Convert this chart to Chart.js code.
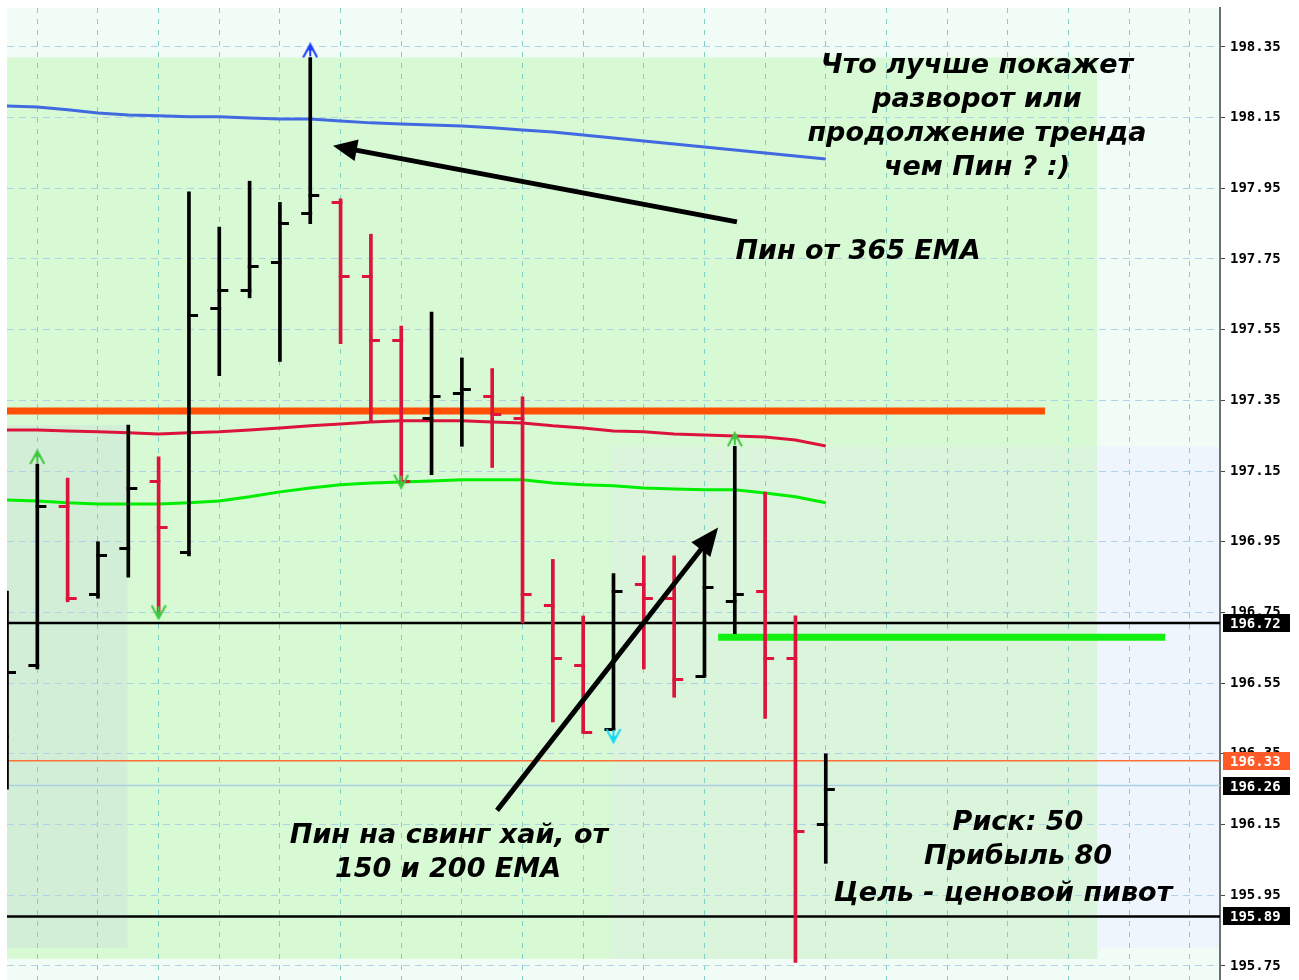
<!DOCTYPE html>
<html>
<head>
<meta charset="utf-8">
<script src="https://cdn.jsdelivr.net/npm/chart.js@4.4.1/dist/chart.umd.min.js"></script>
<style>
  body { margin: 0; background: #fff; }
</style>
</head>
<body>
<canvas id="chart" width="1299" height="980"></canvas>
<script>
// bar index (-1 is the half-hidden bar at the left edge)
const bars   = [-1, 0, 1, 2, 3, 4, 5, 6, 7, 8, 9, 10, 11, 12, 13, 14, 15, 16, 17, 18, 19, 20, 21, 22, 23, 24, 25, 26];
const opens  = [196.40, 196.60, 197.05, 196.80, 196.93, 197.12, 196.92, 197.61, 197.66, 197.74, 197.88, 197.91, 197.70, 197.52, 197.30, 197.37, 197.36, 197.30, 196.77, 196.60, 196.42, 196.83, 196.79, 196.57, 196.78, 196.81, 196.62, 196.15];
const highs  = [196.81, 197.17, 197.13, 196.95, 197.28, 197.19, 197.94, 197.84, 197.97, 197.91, 198.32, 197.92, 197.82, 197.56, 197.60, 197.47, 197.44, 197.36, 196.90, 196.74, 196.86, 196.91, 196.91, 196.96, 197.22, 197.09, 196.74, 196.35];
const lows   = [196.25, 196.59, 196.78, 196.79, 196.85, 196.75, 196.91, 197.42, 197.64, 197.46, 197.85, 197.51, 197.29, 197.11, 197.14, 197.22, 197.16, 196.72, 196.44, 196.41, 196.42, 196.59, 196.51, 196.57, 196.69, 196.45, 195.76, 196.04];
const closes = [196.58, 197.05, 196.79, 196.91, 197.10, 196.99, 197.59, 197.66, 197.73, 197.85, 197.93, 197.70, 197.52, 197.12, 197.36, 197.38, 197.31, 196.80, 196.62, 196.41, 196.81, 196.79, 196.56, 196.82, 196.80, 196.62, 196.13, 196.25];

const ema365 = [198.183, 198.180, 198.172, 198.163, 198.157, 198.155, 198.152, 198.152, 198.149, 198.146, 198.146, 198.140, 198.135, 198.132, 198.129, 198.126, 198.121, 198.115, 198.109, 198.101, 198.092, 198.084, 198.075, 198.067, 198.058, 198.050, 198.041, 198.033];
const ema200 = [197.266, 197.266, 197.263, 197.261, 197.258, 197.255, 197.258, 197.261, 197.266, 197.272, 197.278, 197.283, 197.289, 197.292, 197.292, 197.292, 197.289, 197.286, 197.278, 197.272, 197.263, 197.261, 197.255, 197.252, 197.249, 197.246, 197.238, 197.221];
const ema150 = [197.068, 197.065, 197.060, 197.057, 197.057, 197.057, 197.060, 197.065, 197.077, 197.091, 197.102, 197.111, 197.116, 197.119, 197.122, 197.125, 197.125, 197.125, 197.116, 197.111, 197.108, 197.102, 197.099, 197.097, 197.097, 197.088, 197.077, 197.060];

// fractal markers
const fractalUpBars    = [0, 9, 23];
const fractalUpPrices  = [197.19, 198.34, 197.24];
const fractalDnBars    = [4, 12, 19];
const fractalDnPrices  = [196.75, 197.12, 196.40];

// price axis ticks
const priceTicks = [195.75, 195.95, 196.15, 196.35, 196.55, 196.75, 196.95, 197.15, 197.35, 197.55, 197.75, 197.95, 198.15, 198.35];

// horizontal levels
const resistLevel = 197.32;
const targetLevel = 196.68;
const hLines      = [196.72, 195.89];
const bidLevel    = 196.33;
const askLevel    = 196.26;

const UP = '#000000', DOWN = '#dc143c';
const isUp = i => closes[i] >= opens[i];

function tickImage(color, left) {
  const c = document.createElement('canvas');
  c.width = 20; c.height = 3;
  const g = c.getContext('2d');
  g.fillStyle = color;
  if (left) g.fillRect(1, 0, 10.5, 3); else g.fillRect(8.5, 0, 10.5, 3);
  return c;
}
const openBlack = tickImage(UP, true), openRed = tickImage(DOWN, true);
const closeBlack = tickImage(UP, false), closeRed = tickImage(DOWN, false);

function fractalImage(color, up) {
  const c = document.createElement('canvas');
  c.width = 16; c.height = 16;
  const g = c.getContext('2d');
  g.strokeStyle = color; g.fillStyle = color; g.lineWidth = 2;
  if (!up) { g.translate(0, 16); g.scale(1, -1); }
  g.beginPath();
  g.moveTo(1, 15); g.lineTo(8, 2); g.lineTo(15, 15);
  g.stroke();
  g.beginPath();
  g.moveTo(8, 1); g.lineTo(11, 9); g.lineTo(8, 7); g.lineTo(5, 9); g.closePath();
  g.fill();
  g.beginPath(); g.moveTo(8, 2); g.lineTo(8, 14); g.stroke();
  return c;
}
const fracUpGreen = fractalImage('#3cc83c', true);
const fracUpBlue = fractalImage('#1a3cff', true);
const fracDnGreen = fractalImage('#3cc83c', false);
const fracDnCyan = fractalImage('#10d8f8', false);

const hseg = (x0, x1, v) => [{ x: x0, y: v }, { x: x1, y: v }];

const backgroundPlugin = {
  id: 'bg',
  beforeDraw(chart) {
    const { ctx, chartArea: a, scales: { x, y } } = chart;
    ctx.save();
    ctx.fillStyle = '#ffffff';
    ctx.fillRect(0, 0, chart.width, chart.height);
    ctx.fillStyle = '#f0fcf5';
    ctx.fillRect(a.left, a.top, a.right - a.left, a.bottom - a.top);
    const rect = (x0, x1, p0, p1, col) => {
      const l = x.getPixelForValue(x0), r = x.getPixelForValue(x1);
      const t = y.getPixelForValue(p1), b = y.getPixelForValue(p0);
      ctx.fillStyle = col;
      ctx.fillRect(l, t, r - l, b - t);
    };
    rect(-1, 34.95, 195.77, 198.32, '#d7f9d3');
    rect(-1, 2.97, 195.80, 197.28, '#d3eed7');
    rect(18.95, 34.95, 195.77, 197.22, '#dbf5dc');
    rect(34.95, 39, 195.80, 197.22, '#eef5fc');
    ctx.restore();
  }
};

const notesPlugin = {
  id: 'notes',
  afterDatasetsDraw(chart) {
    const { ctx, scales: { x, y } } = chart;
    ctx.save();
    const arrows = [
      { from: [23.07, 197.855], to: [9.75, 198.07], len: 24, half: 11 },
      { from: [15.16, 196.19], to: [22.45, 196.99], len: 28, half: 12 }
    ];
    ctx.strokeStyle = '#000'; ctx.fillStyle = '#000'; ctx.lineWidth = 5;
    arrows.forEach(a => {
      const x0 = x.getPixelForValue(a.from[0]), y0 = y.getPixelForValue(a.from[1]);
      const x1 = x.getPixelForValue(a.to[0]), y1 = y.getPixelForValue(a.to[1]);
      const ang = Math.atan2(y1 - y0, x1 - x0);
      const bx = x1 - a.len * Math.cos(ang), by = y1 - a.len * Math.sin(ang);
      ctx.beginPath(); ctx.moveTo(x0, y0); ctx.lineTo(bx + 2 * Math.cos(ang), by + 2 * Math.sin(ang)); ctx.stroke();
      ctx.beginPath();
      ctx.moveTo(x1, y1);
      ctx.lineTo(bx + a.half * Math.sin(ang), by - a.half * Math.cos(ang));
      ctx.lineTo(bx - a.half * Math.sin(ang), by + a.half * Math.cos(ang));
      ctx.closePath(); ctx.fill();
    });

    ctx.font = 'italic bold 27px "DejaVu Sans"';
    ctx.textAlign = 'center';
    ctx.textBaseline = 'middle';
    const texts = [
      ['Что лучше покажет', 977, 66],
      ['разворот или', 977, 100],
      ['продолжение тренда', 977, 134],
      ['чем Пин ? :)', 977, 168],
      ['Пин от 365 EMA', 858, 252],
      ['Пин на свинг хай, от', 449, 836],
      ['150 и 200 EMA', 448, 870],
      ['Риск: 50', 1018, 823],
      ['Прибыль 80', 1018, 857],
      ['Цель - ценовой пивот', 1003, 894]
    ];
    texts.forEach(t => ctx.fillText(t[0], t[1], t[2]));
    ctx.restore();
  },
  afterDraw(chart) {
    const { ctx, chartArea: a, scales: { y } } = chart;
    ctx.save();
    ctx.font = 'bold 14px "DejaVu Sans Mono"';
    ctx.textBaseline = 'middle';
    ctx.textAlign = 'left';
    const boxes = [[hLines[0], '#000'], [bidLevel, '#ff5a28'], [askLevel, '#000'], [hLines[1], '#000']];
    boxes.forEach(([v, col]) => {
      const py = Math.round(y.getPixelForValue(v));
      ctx.fillStyle = col;
      ctx.fillRect(a.right + 3, py - 9, 67, 18);
      ctx.fillStyle = '#fff';
      ctx.fillText(v.toFixed(2), a.right + 10, py + 1);
    });
    ctx.restore();
  }
};

new Chart(document.getElementById('chart'), {
  type: 'line',
  data: {
    datasets: [
      { type: 'line', data: hseg(-1, 33.23, resistLevel), borderColor: '#ff4f00', borderWidth: 7, pointRadius: 0, order: 9 },
      { type: 'line', data: hseg(-1, 39, hLines[0]), borderColor: '#000', borderWidth: 2.5, pointRadius: 0, order: 9 },
      { type: 'line', data: hseg(-1, 39, hLines[1]), borderColor: '#000', borderWidth: 2.5, pointRadius: 0, order: 9 },
      { type: 'line', data: hseg(-1, 39, bidLevel), borderColor: '#ff7038', borderWidth: 1.5, pointRadius: 0, order: 9 },
      { type: 'line', data: hseg(-1, 39, askLevel), borderColor: '#a9cfe3', borderWidth: 1.5, pointRadius: 0, order: 9 },
      { type: 'line', data: hseg(22.45, 37.19, targetLevel), borderColor: '#12f012', borderWidth: 7, pointRadius: 0, order: 9 },
      { type: 'line', data: bars.map((k, i) => ({ x: k, y: ema365[i] })), borderColor: '#4169e1', borderWidth: 3, pointRadius: 0, order: 5 },
      { type: 'line', data: bars.map((k, i) => ({ x: k, y: ema200[i] })), borderColor: '#dc143c', borderWidth: 3, pointRadius: 0, order: 5 },
      { type: 'line', data: bars.map((k, i) => ({ x: k, y: ema150[i] })), borderColor: '#00ee00', borderWidth: 3, pointRadius: 0, order: 5 },
      {
        type: 'bar',
        data: bars.map((k, i) => ({ x: k, y: [lows[i], highs[i]] })),
        backgroundColor: bars.map((k, i) => isUp(i) ? UP : DOWN),
        borderWidth: 0, barThickness: 3, grouped: false, order: 3
      },
      {
        type: 'line', showLine: false,
        data: bars.map((k, i) => ({ x: k, y: opens[i] })),
        pointRadius: 5, pointStyle: bars.map((k, i) => isUp(i) ? openBlack : openRed), order: 2
      },
      {
        type: 'line', showLine: false,
        data: bars.map((k, i) => ({ x: k, y: closes[i] })),
        pointRadius: 5, pointStyle: bars.map((k, i) => isUp(i) ? closeBlack : closeRed), order: 2
      },
      {
        type: 'line', showLine: false,
        data: fractalUpBars.map((k, i) => ({ x: k, y: fractalUpPrices[i] })),
        pointRadius: 8, pointStyle: [fracUpGreen, fracUpBlue, fracUpGreen], order: 1
      },
      {
        type: 'line', showLine: false,
        data: fractalDnBars.map((k, i) => ({ x: k, y: fractalDnPrices[i] })),
        pointRadius: 8, pointStyle: [fracDnGreen, fracDnGreen, fracDnCyan], order: 1
      }
    ]
  },
  options: {
    responsive: false,
    animation: false,
    events: [],
    layout: { autoPadding: false, padding: { left: 7, top: 8, right: 0, bottom: 0 } },
    plugins: { legend: { display: false }, tooltip: { enabled: false } },
    scales: {
      x: {
        type: 'linear', min: -1, max: 39, offset: false,
        afterBuildTicks: s => { s.ticks = [0, 2, 4, 6, 8, 10, 12, 14, 16, 18, 20, 22, 24, 26, 28, 30, 32, 34, 36, 38].map(v => ({ value: v })); },
        afterFit: s => { s.height = 0; s.paddingLeft = 0; s.paddingRight = 0; },
        ticks: { display: false },
        grid: { color: '#84cfc4', lineWidth: 1, drawTicks: false, offset: false },
        border: { display: false, dash: [5, 6] }
      },
      y: {
        type: 'linear', position: 'right', min: 195.71, max: 198.46,
        afterBuildTicks: s => { s.ticks = priceTicks.map(v => ({ value: v })); },
        afterFit: s => { s.width = 79; s.paddingTop = 0; s.paddingBottom = 0; },
        ticks: {
          color: '#000', padding: 5,
          font: { family: 'DejaVu Sans Mono', size: 14, weight: 'bold' },
          callback: v => v.toFixed(2)
        },
        grid: { color: '#acd3ea', lineWidth: 1, drawTicks: true, tickLength: 5, tickColor: '#444', tickBorderDash: [] },
        border: { display: true, color: '#6e6e6e', width: 2, dash: [7, 5] }
      }
    }
  },
  plugins: [backgroundPlugin, notesPlugin]
});
</script>
</body>
</html>
